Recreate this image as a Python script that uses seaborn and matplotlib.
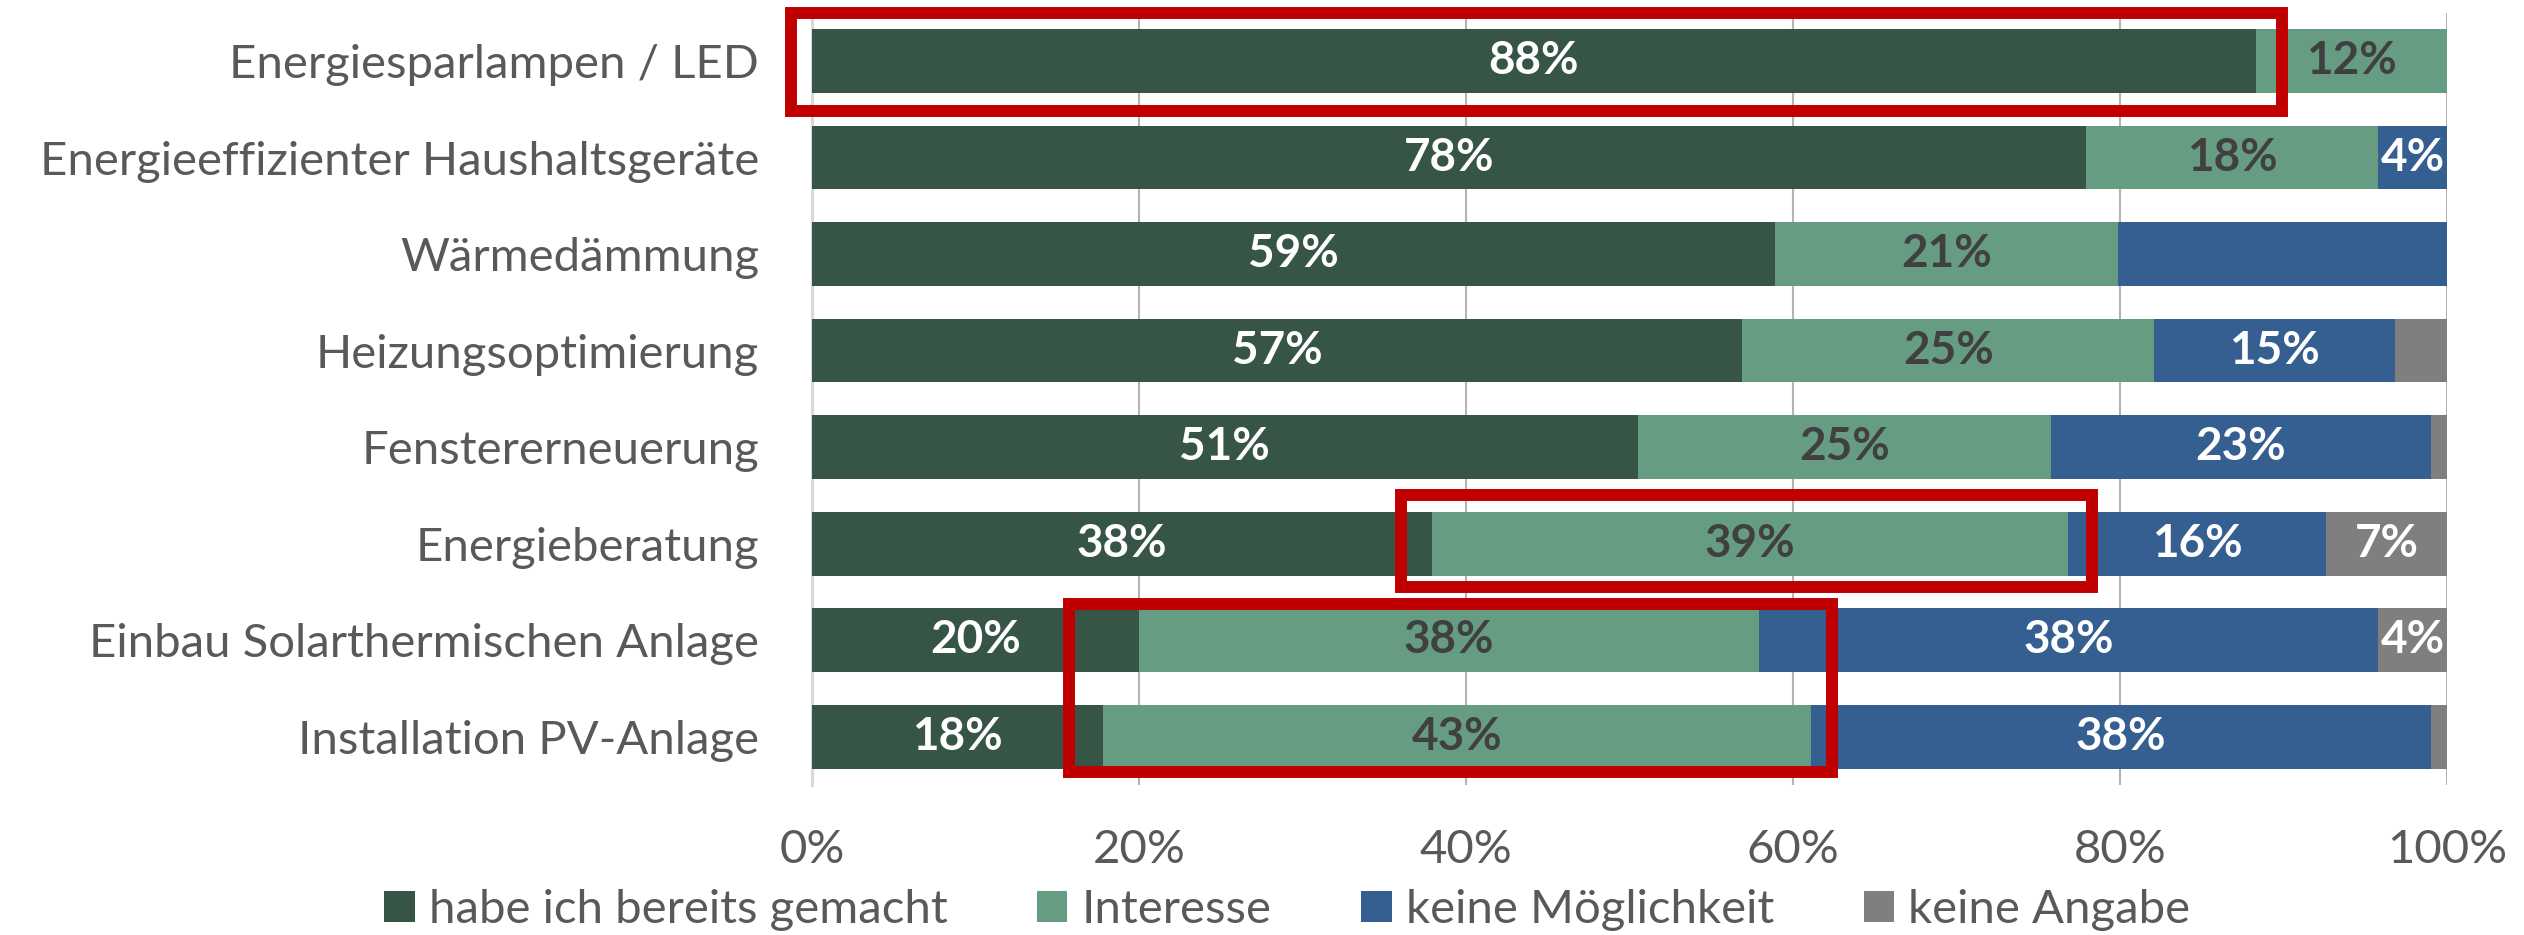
import numpy as np
import pandas as pd
import matplotlib
matplotlib.use("Agg")
import matplotlib.pyplot as plt
from matplotlib.patches import Rectangle, Patch
import seaborn as sns

# ---------------- data ----------------
categories = [
    "Energiesparlampen / LED",
    "Energieeffizienter Haushaltsgeräte",
    "Wärmedämmung",
    "Heizungsoptimierung",
    "Fenstererneuerung",
    "Energieberatung",
    "Einbau Solarthermischen Anlage",
    "Installation PV-Anlage",
]
series_names = ["habe ich bereits gemacht", "Interesse", "keine Möglichkeit", "keine Angabe"]

gemacht = [88.3, 77.9, 58.9, 56.9, 50.5, 37.9, 20.0, 17.8]
interesse = [11.7, 17.9, 21.0, 25.2, 25.3, 38.9, 37.9, 43.3]
keine_moeglichkeit = [0.0, 4.2, 20.1, 14.7, 23.2, 15.8, 37.9, 37.9]
keine_angabe = [0.0, 0.0, 0.0, 3.2, 1.0, 7.4, 4.2, 1.0]

labels_gemacht = ["88%", "78%", "59%", "57%", "51%", "38%", "20%", "18%"]
labels_interesse = ["12%", "18%", "21%", "25%", "25%", "39%", "38%", "43%"]
labels_keine_moeglichkeit = ["", "4%", "", "15%", "23%", "16%", "38%", "38%"]
labels_keine_angabe = ["", "", "", "", "", "7%", "4%", ""]

tick_values = [0, 20, 40, 60, 80, 100]
tick_labels = ["0%", "20%", "40%", "60%", "80%", "100%"]

# ---------------- style ----------------
colors = ["#375546", "#659C82", "#365F91", "#7F7F7F"]
label_colors = ["white", "#404040", "white", "white"]
text_gray = "#595959"
highlight = "#C00000"

sns.set_theme(style="white")
plt.rcParams["font.family"] = ["Lato", "DejaVu Sans"]
FS = 34
FS_LAB = 33

df = pd.DataFrame({
    "Kategorie": categories,
    series_names[0]: gemacht,
    series_names[1]: interesse,
    series_names[2]: keine_moeglichkeit,
    series_names[3]: keine_angabe,
})
cum = df[series_names].cumsum(axis=1)

fig = plt.figure(figsize=(25.24, 9.35), dpi=100)
ax = fig.add_axes([812 / 2524, 1 - 785 / 935, (2447 - 812) / 2524, (785 - 12.7) / 935])

# stacked bars: draw cumulative totals from last series to first
for i in reversed(range(len(series_names))):
    sns.barplot(data=cum.assign(Kategorie=df["Kategorie"]), x=series_names[i], y="Kategorie",
                orient="h", color=colors[i], saturation=1, width=0.66,
                linewidth=0, edgecolor="none", ax=ax, zorder=2)

# segment labels
all_labels = [labels_gemacht, labels_interesse, labels_keine_moeglichkeit, labels_keine_angabe]
vals = df[series_names].to_numpy()
cvals = cum.to_numpy()
for j, lab_list in enumerate(all_labels):
    for k, lab in enumerate(lab_list):
        if lab:
            xc = cvals[k, j] - vals[k, j] / 2
            ax.text(xc, k, lab, ha="center", va="center", fontsize=FS_LAB,
                    fontweight="bold", color=label_colors[j], zorder=5)

ax.set_xlim(0, 100)
ax.set_ylim(len(categories) - 0.5, -0.5)
ax.set_xticks(tick_values)
ax.set_xticklabels(tick_labels)
ax.set_xlabel("")
ax.set_ylabel("")
ax.tick_params(axis="x", length=0, pad=32, labelsize=FS, labelcolor=text_gray)
ax.tick_params(axis="y", length=0, pad=38, labelsize=FS, labelcolor=text_gray)
ax.xaxis.grid(True, color="#B4B4B4", linewidth=1.5, zorder=0)
ax.yaxis.grid(False)
ax.set_axisbelow(True)
for s in ["top", "right", "bottom"]:
    ax.spines[s].set_visible(False)
ax.spines["left"].set_color("#D9D9D9")
ax.spines["left"].set_linewidth(2.2)
ax.spines["left"].set_zorder(1)

# red highlight boxes (annotation frames: x in %, y in category index)
boxes = [(-1.3, 89.9, -0.50, 0.52), (36.0, 78.3, 4.50, 5.45), (15.7, 62.4, 5.63, 7.37)]
for x0, x1, y0, y1 in boxes:
    ax.add_patch(Rectangle((x0, y0), x1 - x0, y1 - y0, fill=False, edgecolor=highlight,
                           linewidth=8.6, clip_on=False, zorder=6, joinstyle="miter"))

handles = [Patch(facecolor=colors[i], edgecolor="none") for i in range(len(series_names))]
fig.legend(handles, series_names, loc="center", bbox_to_anchor=(0.51, 0.027), ncol=4,
           frameon=False, fontsize=FS, labelcolor=text_gray, handlelength=0.64,
           handleheight=0.64, handletextpad=0.3, columnspacing=1.9, borderpad=0,
           borderaxespad=0)

fig.savefig("out.png", dpi=100)
